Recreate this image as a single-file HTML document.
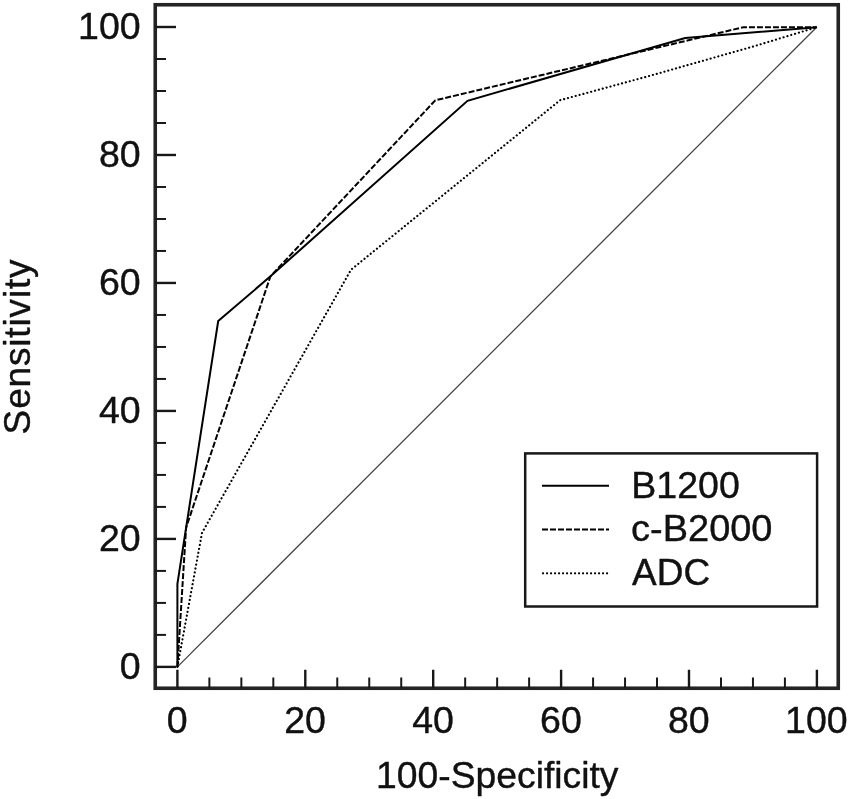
<!DOCTYPE html>
<html>
<head>
<meta charset="utf-8">
<title>ROC curve</title>
<style>
html,body{margin:0;padding:0;background:#fff;}
body{width:850px;height:799px;overflow:hidden;}
svg{display:block;}
text{font-family:"Liberation Sans",Arial,sans-serif;fill:#111;stroke:#111;stroke-width:0.4px;stroke-linejoin:round;}
</style>
</head>
<body>
<svg width="850" height="799" viewBox="0 0 850 799">
<rect x="0" y="0" width="850" height="799" fill="#fff"/>
<!-- frame -->
<rect x="155.25" y="4.75" width="683" height="683.5" fill="none" stroke="#242424" stroke-width="3.6"/>
<!-- ticks -->
<g id="ticks" stroke="#181818" stroke-width="2.4" fill="none">
<line x1="177.40" y1="688.25" x2="177.40" y2="669.75"/>
<line x1="155.25" y1="666.90" x2="176" y2="666.90"/>
<line x1="209.38" y1="688.25" x2="209.38" y2="677.5" stroke-width="2"/>
<line x1="155.25" y1="634.90" x2="166" y2="634.90" stroke-width="2"/>
<line x1="241.35" y1="688.25" x2="241.35" y2="677.5" stroke-width="2"/>
<line x1="155.25" y1="602.91" x2="166" y2="602.91" stroke-width="2"/>
<line x1="273.32" y1="688.25" x2="273.32" y2="677.5" stroke-width="2"/>
<line x1="155.25" y1="570.91" x2="166" y2="570.91" stroke-width="2"/>
<line x1="305.30" y1="688.25" x2="305.30" y2="669.75"/>
<line x1="155.25" y1="538.92" x2="176" y2="538.92"/>
<line x1="337.27" y1="688.25" x2="337.27" y2="677.5" stroke-width="2"/>
<line x1="155.25" y1="506.92" x2="166" y2="506.92" stroke-width="2"/>
<line x1="369.25" y1="688.25" x2="369.25" y2="677.5" stroke-width="2"/>
<line x1="155.25" y1="474.93" x2="166" y2="474.93" stroke-width="2"/>
<line x1="401.23" y1="688.25" x2="401.23" y2="677.5" stroke-width="2"/>
<line x1="155.25" y1="442.93" x2="166" y2="442.93" stroke-width="2"/>
<line x1="433.20" y1="688.25" x2="433.20" y2="669.75"/>
<line x1="155.25" y1="410.94" x2="176" y2="410.94"/>
<line x1="465.17" y1="688.25" x2="465.17" y2="677.5" stroke-width="2"/>
<line x1="155.25" y1="378.94" x2="166" y2="378.94" stroke-width="2"/>
<line x1="497.15" y1="688.25" x2="497.15" y2="677.5" stroke-width="2"/>
<line x1="155.25" y1="346.95" x2="166" y2="346.95" stroke-width="2"/>
<line x1="529.12" y1="688.25" x2="529.12" y2="677.5" stroke-width="2"/>
<line x1="155.25" y1="314.95" x2="166" y2="314.95" stroke-width="2"/>
<line x1="561.10" y1="688.25" x2="561.10" y2="669.75"/>
<line x1="155.25" y1="282.96" x2="176" y2="282.96"/>
<line x1="593.08" y1="688.25" x2="593.08" y2="677.5" stroke-width="2"/>
<line x1="155.25" y1="250.96" x2="166" y2="250.96" stroke-width="2"/>
<line x1="625.05" y1="688.25" x2="625.05" y2="677.5" stroke-width="2"/>
<line x1="155.25" y1="218.97" x2="166" y2="218.97" stroke-width="2"/>
<line x1="657.02" y1="688.25" x2="657.02" y2="677.5" stroke-width="2"/>
<line x1="155.25" y1="186.97" x2="166" y2="186.97" stroke-width="2"/>
<line x1="689.00" y1="688.25" x2="689.00" y2="669.75"/>
<line x1="155.25" y1="154.98" x2="176" y2="154.98"/>
<line x1="720.98" y1="688.25" x2="720.98" y2="677.5" stroke-width="2"/>
<line x1="155.25" y1="122.99" x2="166" y2="122.99" stroke-width="2"/>
<line x1="752.95" y1="688.25" x2="752.95" y2="677.5" stroke-width="2"/>
<line x1="155.25" y1="90.99" x2="166" y2="90.99" stroke-width="2"/>
<line x1="784.92" y1="688.25" x2="784.92" y2="677.5" stroke-width="2"/>
<line x1="155.25" y1="59.00" x2="166" y2="59.00" stroke-width="2"/>
<line x1="816.90" y1="688.25" x2="816.90" y2="669.75"/>
<line x1="155.25" y1="27.00" x2="176" y2="27.00"/>
</g>
<!-- diagonal -->
<line x1="177.4" y1="666.9" x2="816.9" y2="27" stroke="#444" stroke-width="1.3"/>
<!-- curves -->
<polyline points="177.4,666.9 202,532.8 351.1,269.6 560.1,100.2 650,75.8 755,46 816.9,27.2" fill="none" stroke="#000" stroke-width="2.15" stroke-linecap="round" stroke-dasharray="0.1 3.9"/>
<polyline points="177.4,666.9 186.1,527.6 270.4,276.4 435.3,100.3 743.5,27.2 816.9,27.2" fill="none" stroke="#000" stroke-width="2" stroke-dasharray="6 2"/>
<polyline points="177.4,666.9 177.4,583.8 218.2,321.1 270.5,276.3 467.5,100.8 685.2,38 816.9,27.2" fill="none" stroke="#000" stroke-width="2" stroke-linejoin="miter"/>
<!-- legend -->
<rect x="525.2" y="453.4" width="291.9" height="153.1" fill="#fff" stroke="#181818" stroke-width="2.5"/>
<line x1="542" y1="485.7" x2="609" y2="485.7" stroke="#000" stroke-width="2"/>
<line x1="542" y1="529.6" x2="609" y2="529.6" stroke="#000" stroke-width="2" stroke-dasharray="6 2"/>
<line x1="543" y1="573.3" x2="609" y2="573.3" stroke="#000" stroke-width="2.15" stroke-linecap="round" stroke-dasharray="0.1 3.9"/>
<g font-size="37.5">
<text x="631.3" y="497.7">B1200</text>
<text x="631.1" y="541.25" textLength="141.4" lengthAdjust="spacingAndGlyphs">c-B2000</text>
<text x="632.1" y="585" textLength="78.05" lengthAdjust="spacingAndGlyphs">ADC</text>
</g>
<!-- y labels -->
<g font-size="37.5" text-anchor="end">
<text x="140.7" y="38.60">100</text>
<text x="140.7" y="166.58">80</text>
<text x="140.7" y="294.56">60</text>
<text x="140.7" y="422.54">40</text>
<text x="140.7" y="550.52">20</text>
<text x="140.7" y="678.50">0</text>
</g>
<!-- x labels -->
<g font-size="37.5" text-anchor="middle">
<text x="177.20" y="733.2">0</text>
<text x="305.10" y="733.2">20</text>
<text x="433.00" y="733.2">40</text>
<text x="560.90" y="733.2">60</text>
<text x="688.80" y="733.2">80</text>
<text x="816.40" y="733.2">100</text>
</g>
<text x="497.3" y="787.9" font-size="37.5" text-anchor="middle" textLength="242.4" lengthAdjust="spacingAndGlyphs">100-Specificity</text>
<text transform="translate(29.5,346.9) rotate(-90)" font-size="37" text-anchor="middle" textLength="175" lengthAdjust="spacing">Sensitivity</text>
</svg>
</body>
</html>
